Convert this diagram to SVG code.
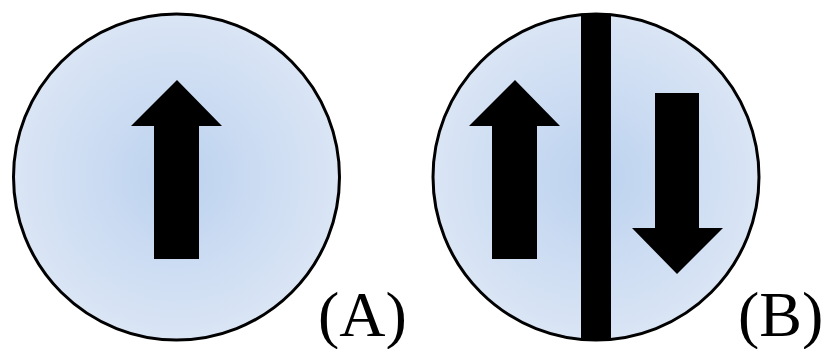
<svg xmlns="http://www.w3.org/2000/svg" width="828" height="349" viewBox="0 0 828 349">
<defs>
<radialGradient id="g" cx="50%" cy="50%" r="50%">
<stop offset="0" stop-color="#bcd2ef"/>
<stop offset="1" stop-color="#dae5f5"/>
</radialGradient>
<clipPath id="cb"><circle cx="596" cy="177" r="164"/></clipPath>
</defs>
<style>
.c{fill:url(#g);stroke:#000;stroke-width:3}
.a{fill:#000}
.t{font-family:'Times New Roman','Liberation Serif',serif;font-size:64px;fill:#000}
</style>
<g id="nodeA">
<circle class="c" cx="176.5" cy="177" r="163"/>
<polygon class="a" points="177,80 222,126 199,126 199,259 154,259 154,126 131,126"/>
<text class="t" x="318" y="336">(A)</text>
</g>
<g id="nodeB">
<circle class="c" cx="596" cy="177" r="163"/>
<rect class="a" x="581" y="10" width="30" height="335" clip-path="url(#cb)"/>
<polygon class="a" points="515,80 560,126 537,126 537,259 492,259 492,126 469,126"/>
<polygon class="a" points="677,274 723,228 699,228 699,93 655,93 655,228 632,228"/>
<text class="t" x="738" y="336">(B)</text>
</g>
</svg>
